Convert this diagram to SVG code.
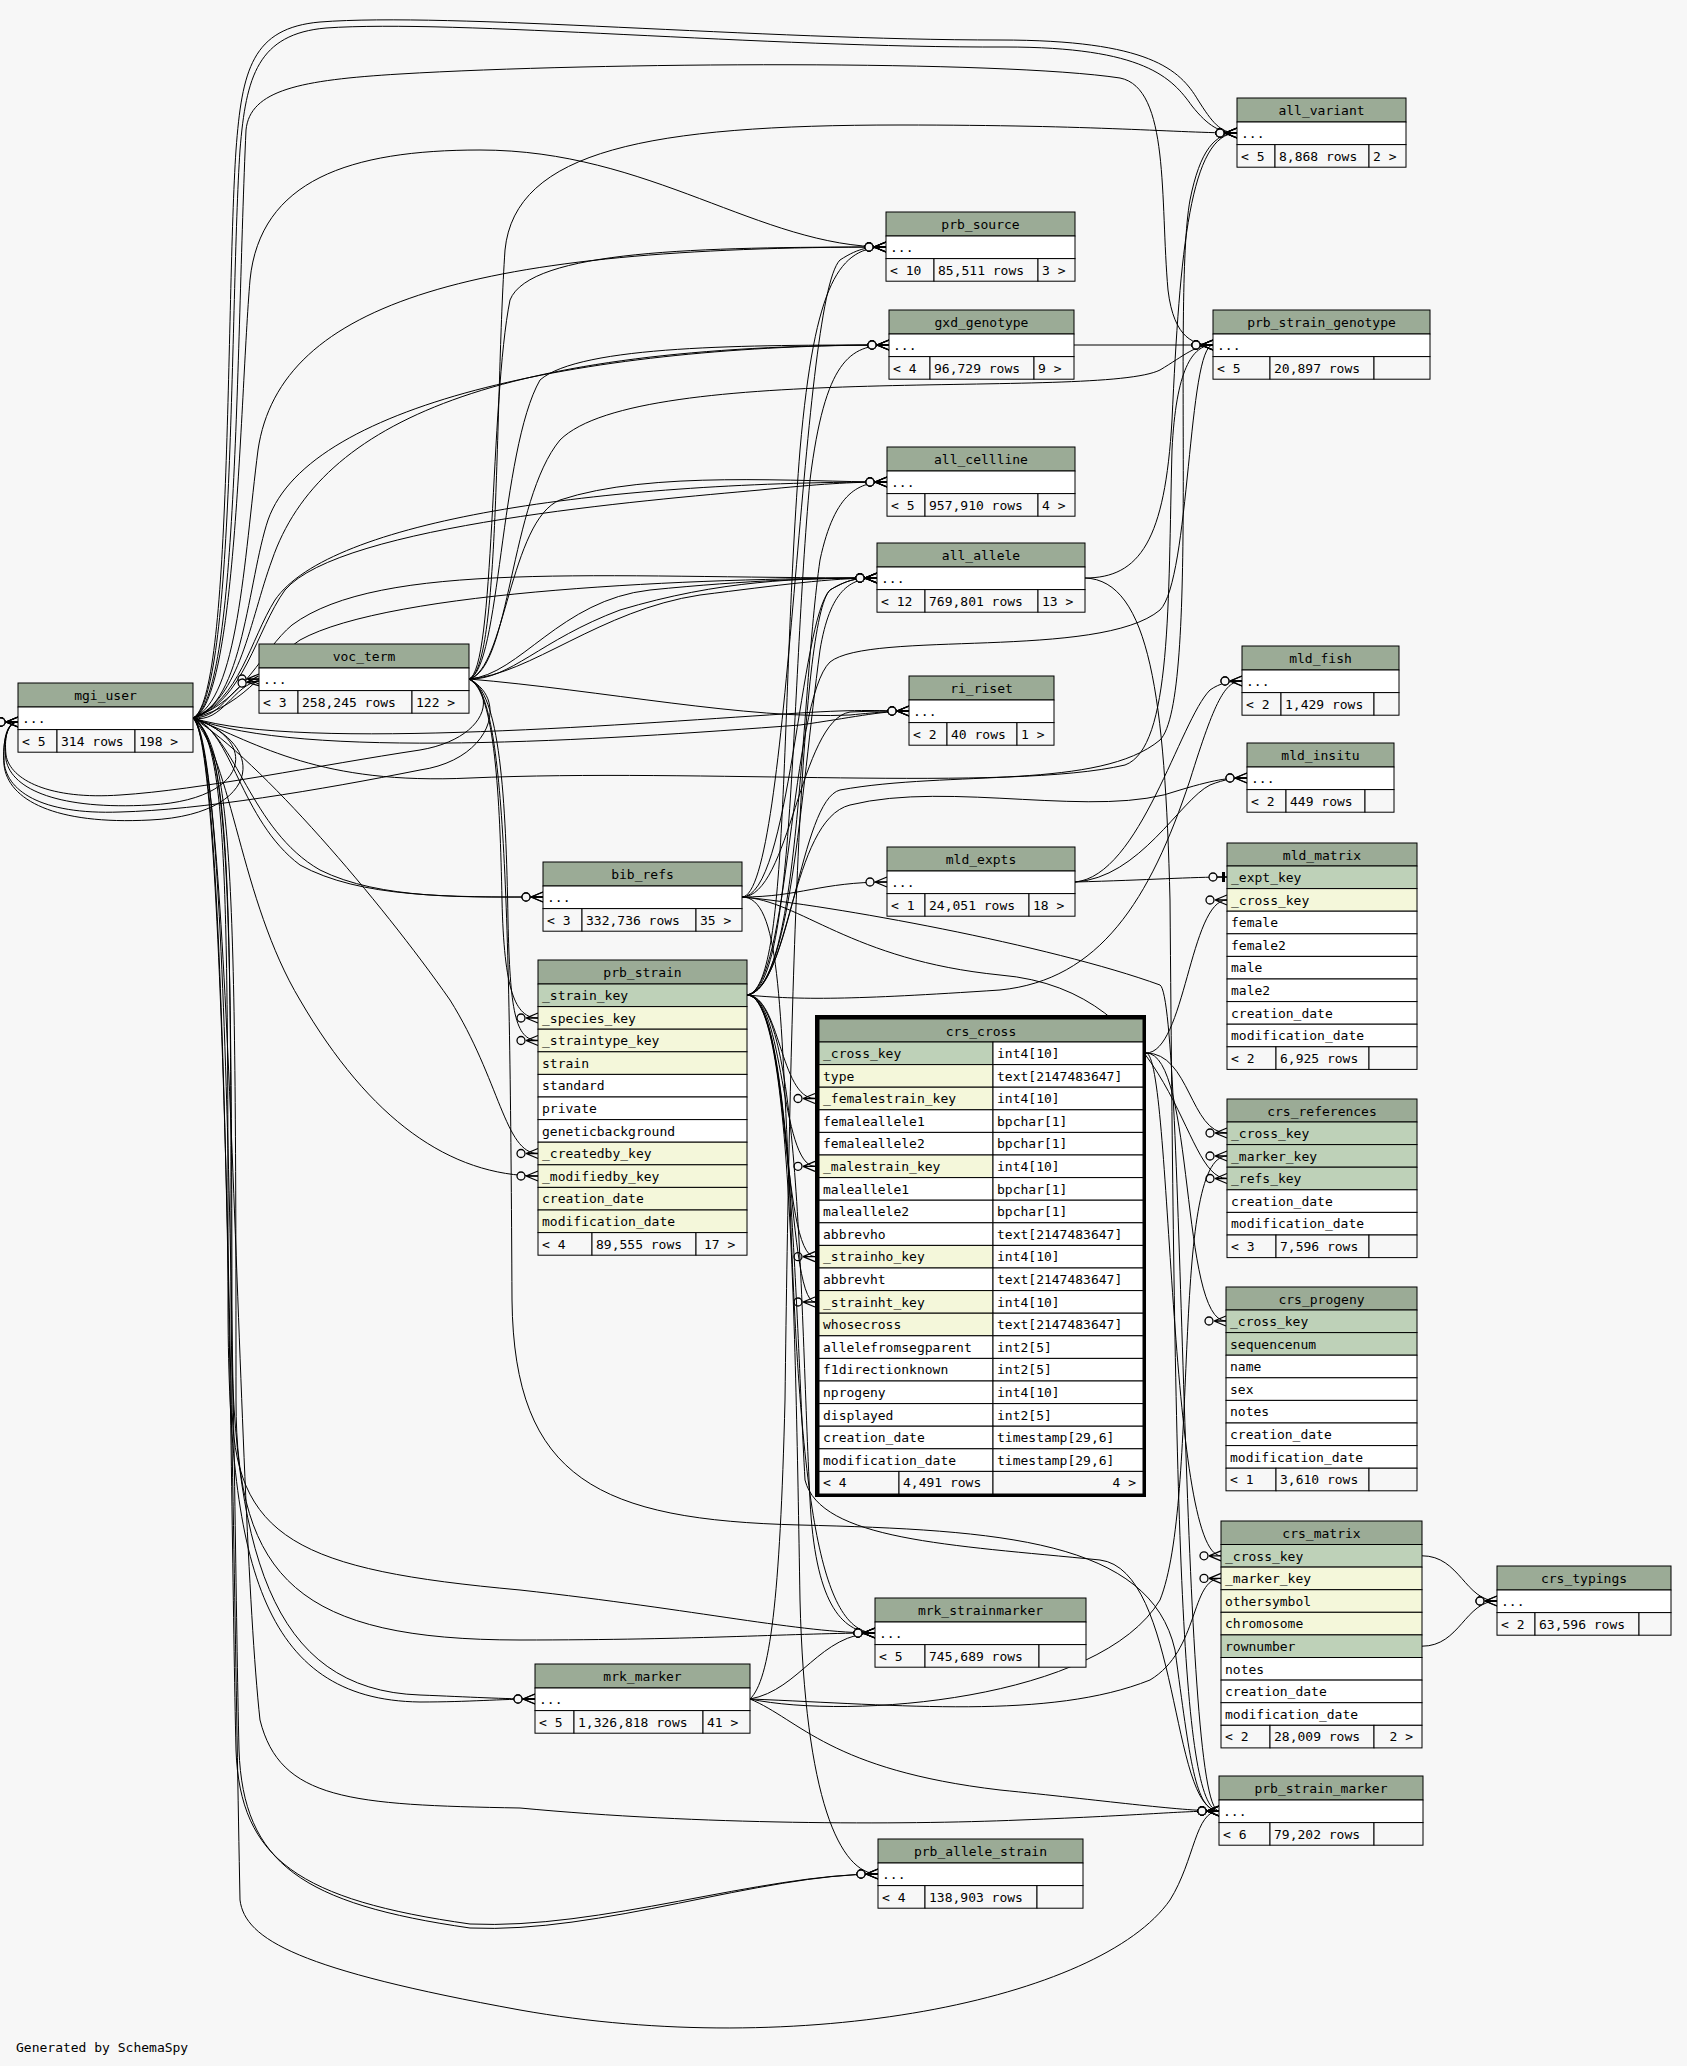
<svg xmlns="http://www.w3.org/2000/svg" width="1687" height="2066" viewBox="0 0 1687 2066">
<style>
text{font-family:"DejaVu Sans Mono","Liberation Mono",monospace;font-size:13px;fill:#000}
.c{text-anchor:middle}
.r{text-anchor:end}
.s{stroke:#000;stroke-width:1}
.h{fill:#9bab96}
.pk{fill:#bed1b8}
.fk{fill:#f4f7da}
.w{fill:#ffffff}
.ft{fill:#f7f7f7}
.e{fill:none;stroke:#000;stroke-width:1;marker-end:url(#crow)}
.o{fill:none;stroke:#000;stroke-width:1;marker-end:url(#one)}
</style>
<defs>
<marker id="crow" markerUnits="userSpaceOnUse" markerWidth="24" markerHeight="12" viewBox="0 0 24 12" refX="24" refY="6" orient="auto" overflow="visible">
<path d="M12,6 L24,1 M12,6 L24,6 M12,6 L24,11" stroke="#000" stroke-width="1.3" fill="none"/>
<circle cx="7" cy="6" r="4" fill="#f7f7f7" stroke="#000" stroke-width="1.3"/>
</marker>
<marker id="one" markerUnits="userSpaceOnUse" markerWidth="24" markerHeight="12" viewBox="0 0 24 12" refX="24" refY="6" orient="auto" overflow="visible">
<path d="M11,6 L24,6" stroke="#000" stroke-width="1.3"/>
<rect x="19" y="1" width="3" height="10" fill="#000"/>
<circle cx="10" cy="6" r="4" fill="#f7f7f7" stroke="#000" stroke-width="1.3"/>
</marker>
</defs>
<rect x="0" y="0" width="1687" height="2066" fill="#f7f7f7"/>
<g id="connectors">
<path class="e" d="M193,718 C232,700 226,300 236,150 C242,70 252,28 320,22 C450,12 760,40 1000,40 C1150,40 1180,70 1198,100 C1212,122 1220,133 1237,133"/>
<path class="e" d="M193,718 C235,700 230,300 240,150 C246,76 258,34 326,28 C455,19 765,48 1005,47 C1145,47 1172,78 1192,106 C1208,126 1220,133 1237,133"/>
<path class="e" d="M193,718 C238,700 236,350 246,130 C250,90 300,80 400,74 C600,62 1000,60 1120,78 C1170,88 1160,200 1168,290 C1174,340 1195,345 1213,345"/>
<path class="e" d="M193,718 C260,745 320,785 470,778 C700,768 1010,792 1125,765 C1172,748 1168,600 1172,450 C1176,370 1192,345 1213,345"/>
<path class="e" d="M193,718 C238,700 244,560 258,450 C280,300 480,247 886,247"/>
<path class="e" d="M193,718 C236,705 240,400 250,280 C260,180 350,150 480,150 C650,150 760,247 886,247"/>
<path class="e" d="M193,718 C240,700 250,620 272,560 C320,420 500,345 889,345"/>
<path class="e" d="M193,718 C243,705 248,580 268,520 C310,400 600,345 889,345"/>
<path class="e" d="M193,718 C240,700 250,640 275,600 C330,520 600,482 887,482"/>
<path class="e" d="M193,718 C244,702 256,630 285,590 C340,525 650,500 760,490 C820,484 850,482 887,482"/>
<path class="e" d="M193,718 C245,700 262,650 292,625 C380,560 600,578 877,578"/>
<path class="e" d="M193,718 C248,705 270,660 300,640 C390,590 700,578 877,578"/>
<path class="e" d="M193,718 C225,718 232,679 259,679"/>
<path class="e" d="M193,718 C222,724 234,684 259,681"/>
<path class="e" d="M193,718 C232,730 240,820 300,865 C360,898 450,897 543,897"/>
<path class="e" d="M193,718 C236,735 250,830 320,870 C380,900 470,897 543,897"/>
<path class="e" d="M193,718 C260,760 380,900 450,1000 C500,1080 505,1153.5 538,1153.5"/>
<path class="e" d="M193,718 C232,760 240,900 300,1000 C370,1120 450,1176 538,1176"/>
<path class="e" d="M193,718 C228,740 228,900 228,1300 C228,1560 260,1700 420,1702 C470,1702 500,1699 535,1699"/>
<path class="e" d="M193,718 C231,745 231,900 231,1300 C231,1550 270,1690 420,1695 C470,1697 505,1699 535,1699"/>
<path class="e" d="M193,718 C230,740 232,900 232,1400 C232,1540 300,1570 520,1590 C700,1610 800,1633 875,1633"/>
<path class="e" d="M193,718 C234,745 236,900 236,1400 C236,1580 300,1640 520,1640 C700,1640 800,1633 875,1633"/>
<path class="e" d="M193,718 C228,740 230,1500 236,1750 C240,1860 300,1900 470,1924 C600,1930 760,1874 878,1874"/>
<path class="e" d="M193,718 C231,740 233,1500 239,1750 C243,1864 303,1904 470,1928 C600,1934 760,1874 878,1874"/>
<path class="e" d="M193,718 C226,740 232,1500 240,1900 C245,1940 300,1970 520,2010 C800,2060 1100,2000 1170,1900 C1195,1860 1195,1811 1219,1811"/>
<path class="e" d="M193,718 C232,760 236,1500 260,1720 C280,1800 350,1805 520,1808 C700,1825 900,1825 1020,1820 C1150,1815 1180,1811 1219,1811"/>
<path class="e" d="M193,718 C300,760 600,740 800,725 C850,718 880,711 909,711"/>
<path class="e" d="M193,718 C300,752 650,722 800,713 C860,709 885,711 909,711"/>
<path class="e" d="M193,718 C260,740 250,800 150,805 C60,810 12,790 6,760 C3,738 8,722 18,722"/>
<path class="e" d="M193,718 C270,745 260,815 150,820 C55,825 8,800 4,765 C2,740 8,722 18,722"/>
<path class="e" d="M469,679 C500,670 495,400 505,250 C515,150 650,125 900,125 C1100,125 1180,133 1237,133"/>
<path class="e" d="M469,679 C495,670 490,400 510,300 C530,250 700,247 886,247"/>
<path class="e" d="M469,679 C500,670 500,450 540,380 C580,345 750,345 889,345"/>
<path class="e" d="M469,679 C510,670 510,500 560,440 C640,360 1100,400 1160,370 C1185,355 1195,345 1213,345"/>
<path class="e" d="M469,679 C505,670 510,520 560,500 C650,470 800,482 887,482"/>
<path class="e" d="M469,679 C520,675 560,600 650,590 C750,580 820,578 877,578"/>
<path class="e" d="M469,679 C530,675 600,610 700,595 C780,585 830,578 877,578"/>
<path class="e" d="M469,679 C510,680 540,640 620,610 C720,580 800,578 877,578"/>
<path class="e" d="M469,679 C495,690 500,800 502,900 C504,990 515,1018 538,1018"/>
<path class="e" d="M469,679 C500,690 506,800 508,920 C510,1010 515,1040.5 538,1040.5"/>
<path class="e" d="M469,679 C600,690 750,720 850,715 C880,712 895,711 909,711"/>
<path class="e" d="M469,679 C505,690 510,900 512,1300 C514,1480 600,1520 800,1525 C1000,1530 1150,1540 1175,1650 C1190,1760 1195,1811 1219,1811"/>
<path class="e" d="M469,679 C500,700 480,740 420,750 C320,765 200,790 120,795 C50,800 10,780 6,755 C4,735 8,722 18,722"/>
<path class="e" d="M469,679 C510,700 490,760 420,770 C320,790 200,810 120,812 C40,815 5,790 4,760 C3,735 8,722 18,722"/>
<path class="e" d="M747,995 C790,990 780,700 800,450 C815,280 840,247 886,247"/>
<path class="e" d="M747,995 C795,990 790,700 810,480 C825,360 850,345 889,345"/>
<path class="e" d="M747,995 C800,990 800,700 820,560 C835,490 860,482 887,482"/>
<path class="e" d="M747,995 C790,990 800,800 820,650 C830,590 850,578 877,578"/>
<path class="e" d="M747,995 C790,990 790,700 830,662 C870,630 1100,660 1160,610 C1190,580 1188,345 1213,345"/>
<path class="e" d="M747,995 C790,990 800,800 840,790 C950,770 1100,790 1160,740 C1200,700 1172,300 1190,200 C1200,150 1215,133 1237,133"/>
<path class="e" d="M747,995 C800,1000 850,1000 1000,990 C1100,980 1150,900 1190,780 C1215,700 1225,681 1242,681"/>
<path class="e" d="M747,995 C790,990 790,820 850,805 C950,780 1100,820 1180,790 C1220,778 1230,778 1247,778"/>
<path class="e" d="M747,995 C780,995 780,1098.5 815,1098.5"/>
<path class="e" d="M747,995 C785,995 780,1166.3 815,1166.3"/>
<path class="e" d="M747,995 C790,995 780,1256.7 815,1256.7"/>
<path class="e" d="M747,995 C793,995 785,1302 815,1302"/>
<path class="e" d="M747,995 C800,995 800,1300 810,1500 C815,1600 840,1633 875,1633"/>
<path class="e" d="M747,995 C790,995 795,1300 800,1600 C805,1800 840,1874 878,1874"/>
<path class="e" d="M747,995 C790,995 795,1300 805,1480 C820,1540 950,1545 1100,1560 C1180,1570 1170,1811 1219,1811"/>
<path class="e" d="M742,897 C800,897 820,882 887,882"/>
<path class="e" d="M742,897 C790,897 800,720 850,712 C870,711 890,711 909,711"/>
<path class="e" d="M742,897 C800,900 850,960 1000,975 C1180,990 1180,1178.5 1227,1178.5"/>
<path class="e" d="M742,897 C780,897 780,1000 790,1200 C800,1500 820,1633 875,1633"/>
<path class="e" d="M742,897 C790,897 800,620 830,590 C850,578 860,578 877,578"/>
<path class="e" d="M742,897 C790,897 800,300 840,260 C860,247 870,247 886,247"/>
<path class="e" d="M742,897 C830,905 1050,945 1160,985 C1185,1000 1180,1811 1219,1811"/>
<path class="e" d="M750,1699 C800,1690 820,1633 875,1633"/>
<path class="e" d="M750,1699 C900,1705 1050,1720 1150,1680 C1200,1650 1190,1578.4 1221,1578.4"/>
<path class="e" d="M750,1699 C850,1720 1100,1700 1160,1600 C1200,1500 1170,1156 1227,1156"/>
<path class="e" d="M750,1699 C770,1680 780,1600 785,1400 C790,1000 800,620 830,590 C850,578 860,578 877,578"/>
<path class="e" d="M750,1699 C800,1720 830,1770 1000,1790 C1100,1800 1180,1811 1219,1811"/>
<path class="e" d="M1146,1053 C1185,1053 1190,900 1227,900"/>
<path class="e" d="M1146,1053 C1190,1053 1190,1133 1227,1133"/>
<path class="e" d="M1146,1053 C1195,1053 1180,1321 1226,1321"/>
<path class="e" d="M1146,1053 C1172,1053 1168,1555.8 1221,1555.8"/>
<path class="o" d="M1075,882 C1150,880 1190,877 1227,877"/>
<path class="e" d="M1075,882 C1140,876 1180,720 1210,690 C1220,683 1230,681 1242,681"/>
<path class="e" d="M1075,882 C1140,878 1180,800 1210,785 C1225,779 1235,778 1247,778"/>
<path class="e" d="M1085,578 C1140,578 1165,540 1172,420 C1180,250 1190,133 1237,133"/>
<path class="e" d="M1085,578 C1150,580 1165,700 1170,900 C1175,1500 1180,1811 1219,1811"/>
<path class="e" d="M1074,345 L1213,345"/>
<path class="e" d="M1422,1555.8 C1460,1555.8 1465,1601 1497,1601"/>
<path class="e" d="M1422,1646.2 C1460,1646.2 1465,1601 1497,1601"/>
</g>

<g id="all_variant">
<rect x="1237" y="98" width="169" height="24" class="h s"/>
<rect x="1237" y="122" width="169" height="22.6" class="w s"/>
<rect x="1237" y="144.6" width="38" height="22.6" class="ft s"/>
<rect x="1275" y="144.6" width="94" height="22.6" class="ft s"/>
<rect x="1369" y="144.6" width="37" height="22.6" class="ft s"/>
<text x="1321.5" y="115" class="c">all_variant</text>
<text x="1241" y="138">...</text>
<text x="1241" y="161">&lt; 5</text><text x="1279" y="161">8,868 rows</text><text x="1373" y="161">2 &gt;</text>
</g>
<g id="prb_source">
<rect x="886" y="212" width="189" height="24" class="h s"/>
<rect x="886" y="236" width="189" height="22.6" class="w s"/>
<rect x="886" y="258.6" width="48" height="22.6" class="ft s"/>
<rect x="934" y="258.6" width="104" height="22.6" class="ft s"/>
<rect x="1038" y="258.6" width="37" height="22.6" class="ft s"/>
<text x="980.5" y="229" class="c">prb_source</text>
<text x="890" y="252">...</text>
<text x="890" y="275">&lt; 10</text><text x="938" y="275">85,511 rows</text><text x="1042" y="275">3 &gt;</text>
</g>
<g id="gxd_genotype">
<rect x="889" y="310" width="185" height="24" class="h s"/>
<rect x="889" y="334" width="185" height="22.6" class="w s"/>
<rect x="889" y="356.6" width="41" height="22.6" class="ft s"/>
<rect x="930" y="356.6" width="104" height="22.6" class="ft s"/>
<rect x="1034" y="356.6" width="40" height="22.6" class="ft s"/>
<text x="981.5" y="327" class="c">gxd_genotype</text>
<text x="893" y="350">...</text>
<text x="893" y="373">&lt; 4</text><text x="934" y="373">96,729 rows</text><text x="1038" y="373">9 &gt;</text>
</g>
<g id="prb_strain_genotype">
<rect x="1213" y="310" width="217" height="24" class="h s"/>
<rect x="1213" y="334" width="217" height="22.6" class="w s"/>
<rect x="1213" y="356.6" width="57" height="22.6" class="ft s"/>
<rect x="1270" y="356.6" width="104" height="22.6" class="ft s"/>
<rect x="1374" y="356.6" width="56" height="22.6" class="ft s"/>
<text x="1321.5" y="327" class="c">prb_strain_genotype</text>
<text x="1217" y="350">...</text>
<text x="1217" y="373">&lt; 5</text><text x="1274" y="373">20,897 rows</text>
</g>
<g id="all_cellline">
<rect x="887" y="447" width="188" height="24" class="h s"/>
<rect x="887" y="471" width="188" height="22.6" class="w s"/>
<rect x="887" y="493.6" width="38" height="22.6" class="ft s"/>
<rect x="925" y="493.6" width="113" height="22.6" class="ft s"/>
<rect x="1038" y="493.6" width="37" height="22.6" class="ft s"/>
<text x="981" y="464" class="c">all_cellline</text>
<text x="891" y="487">...</text>
<text x="891" y="510">&lt; 5</text><text x="929" y="510">957,910 rows</text><text x="1042" y="510">4 &gt;</text>
</g>
<g id="all_allele">
<rect x="877" y="543" width="208" height="24" class="h s"/>
<rect x="877" y="567" width="208" height="22.6" class="w s"/>
<rect x="877" y="589.6" width="48" height="22.6" class="ft s"/>
<rect x="925" y="589.6" width="113" height="22.6" class="ft s"/>
<rect x="1038" y="589.6" width="47" height="22.6" class="ft s"/>
<text x="981" y="560" class="c">all_allele</text>
<text x="881" y="583">...</text>
<text x="881" y="606">&lt; 12</text><text x="929" y="606">769,801 rows</text><text x="1042" y="606">13 &gt;</text>
</g>
<g id="mld_fish">
<rect x="1242" y="646" width="157" height="24" class="h s"/>
<rect x="1242" y="670" width="157" height="22.6" class="w s"/>
<rect x="1242" y="692.6" width="39" height="22.6" class="ft s"/>
<rect x="1281" y="692.6" width="93" height="22.6" class="ft s"/>
<rect x="1374" y="692.6" width="25" height="22.6" class="ft s"/>
<text x="1320.5" y="663" class="c">mld_fish</text>
<text x="1246" y="686">...</text>
<text x="1246" y="709">&lt; 2</text><text x="1285" y="709">1,429 rows</text>
</g>
<g id="ri_riset">
<rect x="909" y="676" width="145" height="24" class="h s"/>
<rect x="909" y="700" width="145" height="22.6" class="w s"/>
<rect x="909" y="722.6" width="38" height="22.6" class="ft s"/>
<rect x="947" y="722.6" width="70" height="22.6" class="ft s"/>
<rect x="1017" y="722.6" width="37" height="22.6" class="ft s"/>
<text x="981.5" y="693" class="c">ri_riset</text>
<text x="913" y="716">...</text>
<text x="913" y="739">&lt; 2</text><text x="951" y="739">40 rows</text><text x="1021" y="739">1 &gt;</text>
</g>
<g id="mld_insitu">
<rect x="1247" y="743" width="147" height="24" class="h s"/>
<rect x="1247" y="767" width="147" height="22.6" class="w s"/>
<rect x="1247" y="789.6" width="39" height="22.6" class="ft s"/>
<rect x="1286" y="789.6" width="79" height="22.6" class="ft s"/>
<rect x="1365" y="789.6" width="29" height="22.6" class="ft s"/>
<text x="1320.5" y="760" class="c">mld_insitu</text>
<text x="1251" y="783">...</text>
<text x="1251" y="806">&lt; 2</text><text x="1290" y="806">449 rows</text>
</g>
<g id="mld_expts">
<rect x="887" y="847" width="188" height="24" class="h s"/>
<rect x="887" y="871" width="188" height="22.6" class="w s"/>
<rect x="887" y="893.6" width="38" height="22.6" class="ft s"/>
<rect x="925" y="893.6" width="104" height="22.6" class="ft s"/>
<rect x="1029" y="893.6" width="46" height="22.6" class="ft s"/>
<text x="981" y="864" class="c">mld_expts</text>
<text x="891" y="887">...</text>
<text x="891" y="910">&lt; 1</text><text x="929" y="910">24,051 rows</text><text x="1033" y="910">18 &gt;</text>
</g>
<g id="mgi_user">
<rect x="18" y="683" width="175" height="24" class="h s"/>
<rect x="18" y="707" width="175" height="22.6" class="w s"/>
<rect x="18" y="729.6" width="39" height="22.6" class="ft s"/>
<rect x="57" y="729.6" width="78" height="22.6" class="ft s"/>
<rect x="135" y="729.6" width="58" height="22.6" class="ft s"/>
<text x="105.5" y="700" class="c">mgi_user</text>
<text x="22" y="723">...</text>
<text x="22" y="746">&lt; 5</text><text x="61" y="746">314 rows</text><text x="139" y="746">198 &gt;</text>
</g>
<g id="voc_term">
<rect x="259" y="644" width="210" height="24" class="h s"/>
<rect x="259" y="668" width="210" height="22.6" class="w s"/>
<rect x="259" y="690.6" width="39" height="22.6" class="ft s"/>
<rect x="298" y="690.6" width="114" height="22.6" class="ft s"/>
<rect x="412" y="690.6" width="57" height="22.6" class="ft s"/>
<text x="364" y="661" class="c">voc_term</text>
<text x="263" y="684">...</text>
<text x="263" y="707">&lt; 3</text><text x="302" y="707">258,245 rows</text><text x="416" y="707">122 &gt;</text>
</g>
<g id="bib_refs">
<rect x="543" y="862" width="199" height="24" class="h s"/>
<rect x="543" y="886" width="199" height="22.6" class="w s"/>
<rect x="543" y="908.6" width="39" height="22.6" class="ft s"/>
<rect x="582" y="908.6" width="114" height="22.6" class="ft s"/>
<rect x="696" y="908.6" width="46" height="22.6" class="ft s"/>
<text x="642.5" y="879" class="c">bib_refs</text>
<text x="547" y="902">...</text>
<text x="547" y="925">&lt; 3</text><text x="586" y="925">332,736 rows</text><text x="700" y="925">35 &gt;</text>
</g>
<g id="prb_strain">
<rect x="538" y="960" width="209" height="24" class="h s"/>
<rect x="538" y="984" width="209" height="22.6" class="pk s"/>
<rect x="538" y="1006.6" width="209" height="22.6" class="fk s"/>
<rect x="538" y="1029.2" width="209" height="22.6" class="fk s"/>
<rect x="538" y="1051.8" width="209" height="22.6" class="fk s"/>
<rect x="538" y="1074.4" width="209" height="22.6" class="w s"/>
<rect x="538" y="1097" width="209" height="22.6" class="w s"/>
<rect x="538" y="1119.6" width="209" height="22.6" class="w s"/>
<rect x="538" y="1142.2" width="209" height="22.6" class="fk s"/>
<rect x="538" y="1164.8" width="209" height="22.6" class="fk s"/>
<rect x="538" y="1187.4" width="209" height="22.6" class="fk s"/>
<rect x="538" y="1210" width="209" height="22.6" class="fk s"/>
<rect x="538" y="1232.6" width="54" height="22.6" class="ft s"/>
<rect x="592" y="1232.6" width="104" height="22.6" class="ft s"/>
<rect x="696" y="1232.6" width="51" height="22.6" class="ft s"/>
<text x="642.5" y="977" class="c">prb_strain</text>
<text x="542" y="1000">_strain_key</text>
<text x="542" y="1022.6">_species_key</text>
<text x="542" y="1045.2">_straintype_key</text>
<text x="542" y="1067.8">strain</text>
<text x="542" y="1090.4">standard</text>
<text x="542" y="1113">private</text>
<text x="542" y="1135.6">geneticbackground</text>
<text x="542" y="1158.2">_createdby_key</text>
<text x="542" y="1180.8">_modifiedby_key</text>
<text x="542" y="1203.4">creation_date</text>
<text x="542" y="1226">modification_date</text>
<text x="542" y="1248.6">&lt; 4</text><text x="596" y="1248.6">89,555 rows</text><text x="704" y="1248.6">17 &gt;</text>
</g>
<g id="crs_cross">
<rect x="815" y="1015" width="331" height="482" fill="#000"/>
<rect x="819" y="1019" width="324" height="23" class="h s"/>
<rect x="819" y="1042" width="174" height="22.6" class="pk s"/><rect x="993" y="1042" width="150" height="22.6" class="w s"/>
<rect x="819" y="1064.6" width="174" height="22.6" class="fk s"/><rect x="993" y="1064.6" width="150" height="22.6" class="w s"/>
<rect x="819" y="1087.2" width="174" height="22.6" class="fk s"/><rect x="993" y="1087.2" width="150" height="22.6" class="w s"/>
<rect x="819" y="1109.8" width="174" height="22.6" class="w s"/><rect x="993" y="1109.8" width="150" height="22.6" class="w s"/>
<rect x="819" y="1132.4" width="174" height="22.6" class="w s"/><rect x="993" y="1132.4" width="150" height="22.6" class="w s"/>
<rect x="819" y="1155" width="174" height="22.6" class="fk s"/><rect x="993" y="1155" width="150" height="22.6" class="w s"/>
<rect x="819" y="1177.6" width="174" height="22.6" class="w s"/><rect x="993" y="1177.6" width="150" height="22.6" class="w s"/>
<rect x="819" y="1200.2" width="174" height="22.6" class="w s"/><rect x="993" y="1200.2" width="150" height="22.6" class="w s"/>
<rect x="819" y="1222.8" width="174" height="22.6" class="w s"/><rect x="993" y="1222.8" width="150" height="22.6" class="w s"/>
<rect x="819" y="1245.4" width="174" height="22.6" class="fk s"/><rect x="993" y="1245.4" width="150" height="22.6" class="w s"/>
<rect x="819" y="1268" width="174" height="22.6" class="w s"/><rect x="993" y="1268" width="150" height="22.6" class="w s"/>
<rect x="819" y="1290.6" width="174" height="22.6" class="fk s"/><rect x="993" y="1290.6" width="150" height="22.6" class="w s"/>
<rect x="819" y="1313.2" width="174" height="22.6" class="fk s"/><rect x="993" y="1313.2" width="150" height="22.6" class="w s"/>
<rect x="819" y="1335.8" width="174" height="22.6" class="w s"/><rect x="993" y="1335.8" width="150" height="22.6" class="w s"/>
<rect x="819" y="1358.4" width="174" height="22.6" class="w s"/><rect x="993" y="1358.4" width="150" height="22.6" class="w s"/>
<rect x="819" y="1381" width="174" height="22.6" class="w s"/><rect x="993" y="1381" width="150" height="22.6" class="w s"/>
<rect x="819" y="1403.6" width="174" height="22.6" class="w s"/><rect x="993" y="1403.6" width="150" height="22.6" class="w s"/>
<rect x="819" y="1426.2" width="174" height="22.6" class="w s"/><rect x="993" y="1426.2" width="150" height="22.6" class="w s"/>
<rect x="819" y="1448.8" width="174" height="22.6" class="w s"/><rect x="993" y="1448.8" width="150" height="22.6" class="w s"/>
<rect x="819" y="1471.4" width="80" height="22.6" class="ft s"/>
<rect x="899" y="1471.4" width="94" height="22.6" class="ft s"/>
<rect x="993" y="1471.4" width="150" height="22.6" class="ft s"/>
<text x="981" y="1035.5" class="c">crs_cross</text>
<text x="823" y="1058">_cross_key</text><text x="997" y="1058">int4[10]</text>
<text x="823" y="1080.6">type</text><text x="997" y="1080.6">text[2147483647]</text>
<text x="823" y="1103.2">_femalestrain_key</text><text x="997" y="1103.2">int4[10]</text>
<text x="823" y="1125.8">femaleallele1</text><text x="997" y="1125.8">bpchar[1]</text>
<text x="823" y="1148.4">femaleallele2</text><text x="997" y="1148.4">bpchar[1]</text>
<text x="823" y="1171">_malestrain_key</text><text x="997" y="1171">int4[10]</text>
<text x="823" y="1193.6">maleallele1</text><text x="997" y="1193.6">bpchar[1]</text>
<text x="823" y="1216.2">maleallele2</text><text x="997" y="1216.2">bpchar[1]</text>
<text x="823" y="1238.8">abbrevho</text><text x="997" y="1238.8">text[2147483647]</text>
<text x="823" y="1261.4">_strainho_key</text><text x="997" y="1261.4">int4[10]</text>
<text x="823" y="1284">abbrevht</text><text x="997" y="1284">text[2147483647]</text>
<text x="823" y="1306.6">_strainht_key</text><text x="997" y="1306.6">int4[10]</text>
<text x="823" y="1329.2">whosecross</text><text x="997" y="1329.2">text[2147483647]</text>
<text x="823" y="1351.8">allelefromsegparent</text><text x="997" y="1351.8">int2[5]</text>
<text x="823" y="1374.4">f1directionknown</text><text x="997" y="1374.4">int2[5]</text>
<text x="823" y="1397">nprogeny</text><text x="997" y="1397">int4[10]</text>
<text x="823" y="1419.6">displayed</text><text x="997" y="1419.6">int2[5]</text>
<text x="823" y="1442.2">creation_date</text><text x="997" y="1442.2">timestamp[29,6]</text>
<text x="823" y="1464.8">modification_date</text><text x="997" y="1464.8">timestamp[29,6]</text>
<text x="823" y="1487.4">&lt; 4</text><text x="903" y="1487.4">4,491 rows</text><text x="1136" y="1487.4" class="r">4 &gt;</text>
</g>
<g id="mld_matrix">
<rect x="1227" y="843" width="190" height="23" class="h s"/>
<rect x="1227" y="866" width="190" height="22.6" class="pk s"/>
<rect x="1227" y="888.6" width="190" height="22.6" class="fk s"/>
<rect x="1227" y="911.2" width="190" height="22.6" class="w s"/>
<rect x="1227" y="933.8" width="190" height="22.6" class="w s"/>
<rect x="1227" y="956.4" width="190" height="22.6" class="w s"/>
<rect x="1227" y="979" width="190" height="22.6" class="w s"/>
<rect x="1227" y="1001.6" width="190" height="22.6" class="w s"/>
<rect x="1227" y="1024.2" width="190" height="22.6" class="w s"/>
<rect x="1227" y="1046.8" width="49" height="22.6" class="ft s"/>
<rect x="1276" y="1046.8" width="93" height="22.6" class="ft s"/>
<rect x="1369" y="1046.8" width="48" height="22.6" class="ft s"/>
<text x="1322" y="859.5" class="c">mld_matrix</text>
<text x="1231" y="882">_expt_key</text>
<text x="1231" y="904.6">_cross_key</text>
<text x="1231" y="927.2">female</text>
<text x="1231" y="949.8">female2</text>
<text x="1231" y="972.4">male</text>
<text x="1231" y="995">male2</text>
<text x="1231" y="1017.6">creation_date</text>
<text x="1231" y="1040.2">modification_date</text>
<text x="1231" y="1062.8">&lt; 2</text><text x="1280" y="1062.8">6,925 rows</text>
</g>
<g id="crs_references">
<rect x="1227" y="1099" width="190" height="23" class="h s"/>
<rect x="1227" y="1122" width="190" height="22.6" class="pk s"/>
<rect x="1227" y="1144.6" width="190" height="22.6" class="pk s"/>
<rect x="1227" y="1167.2" width="190" height="22.6" class="pk s"/>
<rect x="1227" y="1189.8" width="190" height="22.6" class="w s"/>
<rect x="1227" y="1212.4" width="190" height="22.6" class="w s"/>
<rect x="1227" y="1235" width="49" height="22.6" class="ft s"/>
<rect x="1276" y="1235" width="93" height="22.6" class="ft s"/>
<rect x="1369" y="1235" width="48" height="22.6" class="ft s"/>
<text x="1322" y="1115.5" class="c">crs_references</text>
<text x="1231" y="1138">_cross_key</text>
<text x="1231" y="1160.6">_marker_key</text>
<text x="1231" y="1183.2">_refs_key</text>
<text x="1231" y="1205.8">creation_date</text>
<text x="1231" y="1228.4">modification_date</text>
<text x="1231" y="1251">&lt; 3</text><text x="1280" y="1251">7,596 rows</text>
</g>
<g id="crs_progeny">
<rect x="1226" y="1287" width="191" height="23" class="h s"/>
<rect x="1226" y="1310" width="191" height="22.6" class="pk s"/>
<rect x="1226" y="1332.6" width="191" height="22.6" class="pk s"/>
<rect x="1226" y="1355.2" width="191" height="22.6" class="w s"/>
<rect x="1226" y="1377.8" width="191" height="22.6" class="w s"/>
<rect x="1226" y="1400.4" width="191" height="22.6" class="w s"/>
<rect x="1226" y="1423" width="191" height="22.6" class="w s"/>
<rect x="1226" y="1445.6" width="191" height="22.6" class="w s"/>
<rect x="1226" y="1468.2" width="50" height="22.6" class="ft s"/>
<rect x="1276" y="1468.2" width="93" height="22.6" class="ft s"/>
<rect x="1369" y="1468.2" width="48" height="22.6" class="ft s"/>
<text x="1321.5" y="1303.5" class="c">crs_progeny</text>
<text x="1230" y="1326">_cross_key</text>
<text x="1230" y="1348.6">sequencenum</text>
<text x="1230" y="1371.2">name</text>
<text x="1230" y="1393.8">sex</text>
<text x="1230" y="1416.4">notes</text>
<text x="1230" y="1439">creation_date</text>
<text x="1230" y="1461.6">modification_date</text>
<text x="1230" y="1484.2">&lt; 1</text><text x="1280" y="1484.2">3,610 rows</text>
</g>
<g id="crs_matrix">
<rect x="1221" y="1521" width="201" height="23.5" class="h s"/>
<rect x="1221" y="1544.5" width="201" height="22.6" class="pk s"/>
<rect x="1221" y="1567.1" width="201" height="22.6" class="fk s"/>
<rect x="1221" y="1589.7" width="201" height="22.6" class="fk s"/>
<rect x="1221" y="1612.3" width="201" height="22.6" class="fk s"/>
<rect x="1221" y="1634.9" width="201" height="22.6" class="pk s"/>
<rect x="1221" y="1657.5" width="201" height="22.6" class="w s"/>
<rect x="1221" y="1680.1" width="201" height="22.6" class="w s"/>
<rect x="1221" y="1702.7" width="201" height="22.6" class="w s"/>
<rect x="1221" y="1725.3" width="49" height="22.6" class="ft s"/>
<rect x="1270" y="1725.3" width="104" height="22.6" class="ft s"/>
<rect x="1374" y="1725.3" width="48" height="22.6" class="ft s"/>
<text x="1321.5" y="1538" class="c">crs_matrix</text>
<text x="1225" y="1560.5">_cross_key</text>
<text x="1225" y="1583.1">_marker_key</text>
<text x="1225" y="1605.7">othersymbol</text>
<text x="1225" y="1628.3">chromosome</text>
<text x="1225" y="1650.9">rownumber</text>
<text x="1225" y="1673.5">notes</text>
<text x="1225" y="1696.1">creation_date</text>
<text x="1225" y="1718.7">modification_date</text>
<text x="1225" y="1741.3">&lt; 2</text><text x="1274" y="1741.3">28,009 rows</text><text x="1413" y="1741.3" class="r">2 &gt;</text>
</g>
<g id="crs_typings">
<rect x="1497" y="1566" width="174" height="24" class="h s"/>
<rect x="1497" y="1590" width="174" height="22.6" class="w s"/>
<rect x="1497" y="1612.6" width="38" height="22.6" class="ft s"/>
<rect x="1535" y="1612.6" width="104" height="22.6" class="ft s"/>
<rect x="1639" y="1612.6" width="32" height="22.6" class="ft s"/>
<text x="1584" y="1583" class="c">crs_typings</text>
<text x="1501" y="1606">...</text>
<text x="1501" y="1629">&lt; 2</text><text x="1539" y="1629">63,596 rows</text>
</g>
<g id="mrk_strainmarker">
<rect x="875" y="1598" width="211" height="24" class="h s"/>
<rect x="875" y="1622" width="211" height="22.6" class="w s"/>
<rect x="875" y="1644.6" width="50" height="22.6" class="ft s"/>
<rect x="925" y="1644.6" width="114" height="22.6" class="ft s"/>
<rect x="1039" y="1644.6" width="47" height="22.6" class="ft s"/>
<text x="980.5" y="1615" class="c">mrk_strainmarker</text>
<text x="879" y="1638">...</text>
<text x="879" y="1661">&lt; 5</text><text x="929" y="1661">745,689 rows</text>
</g>
<g id="mrk_marker">
<rect x="535" y="1664" width="215" height="24" class="h s"/>
<rect x="535" y="1688" width="215" height="22.6" class="w s"/>
<rect x="535" y="1710.6" width="39" height="22.6" class="ft s"/>
<rect x="574" y="1710.6" width="129" height="22.6" class="ft s"/>
<rect x="703" y="1710.6" width="47" height="22.6" class="ft s"/>
<text x="642.5" y="1681" class="c">mrk_marker</text>
<text x="539" y="1704">...</text>
<text x="539" y="1727">&lt; 5</text><text x="578" y="1727">1,326,818 rows</text><text x="707" y="1727">41 &gt;</text>
</g>
<g id="prb_strain_marker">
<rect x="1219" y="1776" width="204" height="24" class="h s"/>
<rect x="1219" y="1800" width="204" height="22.6" class="w s"/>
<rect x="1219" y="1822.6" width="51" height="22.6" class="ft s"/>
<rect x="1270" y="1822.6" width="104" height="22.6" class="ft s"/>
<rect x="1374" y="1822.6" width="49" height="22.6" class="ft s"/>
<text x="1321" y="1793" class="c">prb_strain_marker</text>
<text x="1223" y="1816">...</text>
<text x="1223" y="1839">&lt; 6</text><text x="1274" y="1839">79,202 rows</text>
</g>
<g id="prb_allele_strain">
<rect x="878" y="1839" width="205" height="24" class="h s"/>
<rect x="878" y="1863" width="205" height="22.6" class="w s"/>
<rect x="878" y="1885.6" width="47" height="22.6" class="ft s"/>
<rect x="925" y="1885.6" width="112" height="22.6" class="ft s"/>
<rect x="1037" y="1885.6" width="46" height="22.6" class="ft s"/>
<text x="980.5" y="1856" class="c">prb_allele_strain</text>
<text x="882" y="1879">...</text>
<text x="882" y="1902">&lt; 4</text><text x="929" y="1902">138,903 rows</text>
</g>
<text x="16" y="2052">Generated by SchemaSpy</text>
</svg>
